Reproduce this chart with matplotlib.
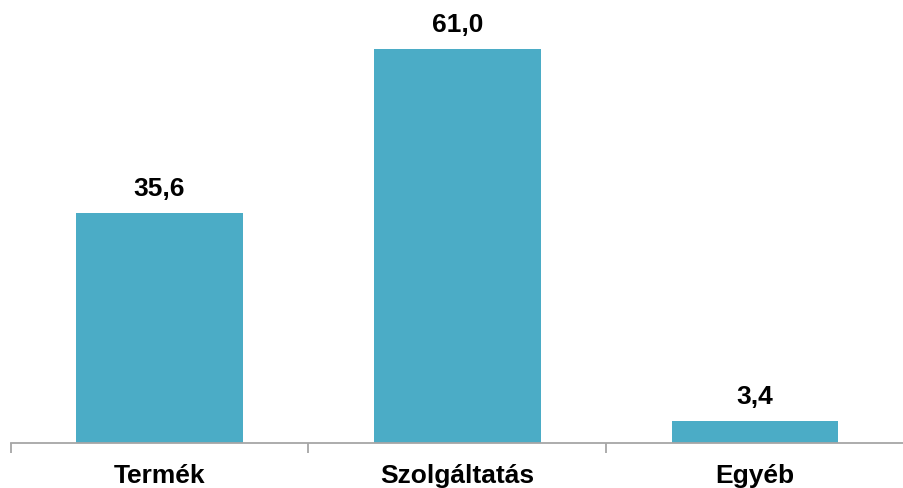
import matplotlib
matplotlib.use("Agg")
import matplotlib.pyplot as plt

categories = ["Termék", "Szolgáltatás", "Egyéb"]
values = [35.6, 61.0, 3.4]
value_labels = ["35,6", "61,0", "3,4"]

plt.rcParams["font.family"] = ["Liberation Sans", "DejaVu Sans"]

W, H = 904, 488
fig = plt.figure(figsize=(W / 100, H / 100), dpi=100)
ax = fig.add_axes([10.5 / W, 45 / H, 893.5 / W, 443 / H])

x = range(len(categories))
bars = ax.bar(x, values, width=0.56, color="#4BACC6", zorder=2)

for xi, v, lab in zip(x, values, value_labels):
    ax.annotate(lab, (xi, v), xytext=(0, 9), textcoords="offset points",
                ha="center", va="bottom", fontsize=19, fontweight="bold",
                color="#000000")

ax.set_xlim(-0.5, 2.475)
ax.set_ylim(0, 68.6)

ax.set_xticks([-0.5, 0.5, 1.5, 2.5])
ax.set_xticklabels([])
ax.set_xticks(list(x), minor=True)
ax.set_xticklabels(categories, minor=True, fontsize=19, fontweight="bold")
ax.tick_params(axis="x", which="major", direction="out", length=7,
               width=1.3, color="#A6A6A6")
ax.tick_params(axis="x", which="minor", length=0, pad=15)
ax.set_yticks([])

for s in ["top", "right", "left"]:
    ax.spines[s].set_visible(False)
ax.spines["bottom"].set_color("#A6A6A6")
ax.spines["bottom"].set_linewidth(1.3)

fig.savefig("out.png", dpi=100)
